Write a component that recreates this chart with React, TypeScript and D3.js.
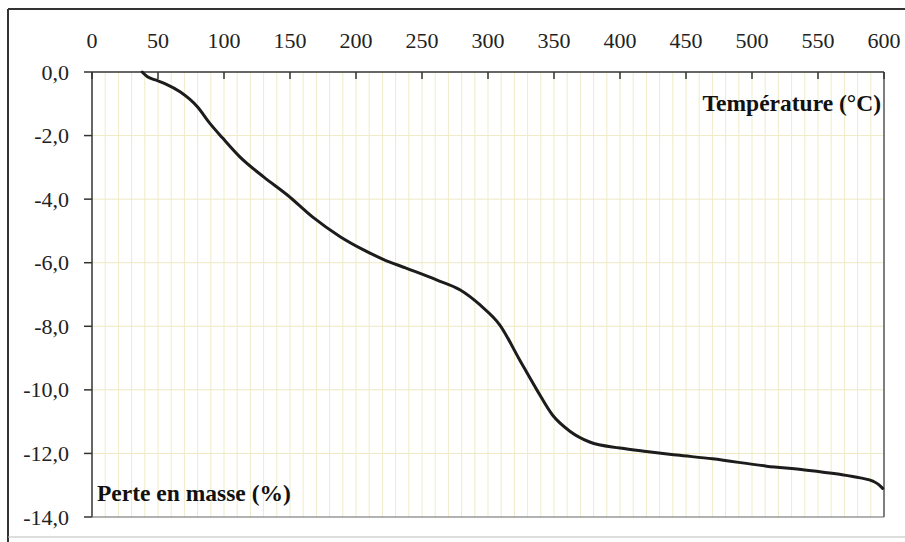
import React from 'react';
import * as d3 from 'd3';

// temperature (°C) and mass loss (%)
const temperature: number[] = [38, 42, 48, 56, 67, 80, 89, 99, 112, 130, 148, 167, 188, 205, 221, 238, 261, 279, 294, 309, 324, 337, 349, 362, 377, 400, 420, 443, 470, 511, 540, 565, 582, 592, 596, 599];
const massLoss: number[] = [0.0, -0.15, -0.25, -0.38, -0.63, -1.1, -1.6, -2.08, -2.67, -3.3, -3.87, -4.56, -5.18, -5.58, -5.9, -6.17, -6.54, -6.86, -7.33, -7.96, -9.06, -10.0, -10.8, -11.3, -11.64, -11.83, -11.94, -12.05, -12.17, -12.4, -12.52, -12.65, -12.77, -12.88, -12.98, -13.1];

const xTicks: number[] = [0, 50, 100, 150, 200, 250, 300, 350, 400, 450, 500, 550, 600];
const yTicks: number[] = [0, -2, -4, -6, -8, -10, -12, -14];
const xTitle = 'Température (°C)';
const yTitle = 'Perte en masse (%)';

const W = 905;
const H = 542;
const left = 92, right = 884, top = 72, bottom = 517;
const font = '"Liberation Serif", "Times New Roman", serif';

export default function App() {
  const x = d3.scaleLinear().domain([0, 600]).range([left, right]);
  const y = d3.scaleLinear().domain([0, -14]).range([top, bottom]);

  const line = d3.line<number>()
    .x((d, i) => x(temperature[i]))
    .y((d) => y(d))
    .curve(d3.curveMonotoneX);

  const minor = d3.range(10, 600, 10);
  const fmt = (v: number) => v.toFixed(1).replace('.', ',');

  return (
    <svg width={W} height={H} style={{ position: 'absolute', left: 0, top: 0, background: '#fff' }}>
      {/* outer frame */}
      <line x1={8} y1={9} x2={W} y2={9} stroke="#333" strokeWidth={2} />
      <line x1={8} y1={9} x2={8} y2={H} stroke="#333" strokeWidth={2} />
      <line x1={8} y1={537} x2={W} y2={537} stroke="#bbb" strokeWidth={1} />

      {/* grid */}
      {minor.map((t) => (
        <line key={'gx' + t} x1={x(t)} x2={x(t)} y1={top} y2={bottom} stroke="#f0ebc9" strokeWidth={1} />
      ))}
      {yTicks.slice(1, -1).map((t) => (
        <line key={'gy' + t} x1={left} x2={right} y1={y(t)} y2={y(t)} stroke="#efe9c4" strokeWidth={1} />
      ))}

      {/* plot frame */}
      <line x1={left} x2={right} y1={top} y2={top} stroke="#333" strokeWidth={1.5} />
      <line x1={left} x2={left} y1={top} y2={bottom} stroke="#333" strokeWidth={1.5} />
      <line x1={left} x2={right} y1={bottom} y2={bottom} stroke="#666" strokeWidth={1.2} />
      <line x1={right} x2={right} y1={top} y2={bottom} stroke="#555" strokeWidth={1.5} />

      {/* x axis on top, ticks inward */}
      {xTicks.map((t) => (
        <g key={'xt' + t}>
          <line x1={x(t)} x2={x(t)} y1={top} y2={top + 7} stroke="#333" strokeWidth={1.5} />
          <text x={x(t)} y={48} textAnchor="middle" fontFamily={font} fontSize={22} fill="#222">{t}</text>
        </g>
      ))}

      {/* y axis, ticks outward */}
      {yTicks.map((t) => (
        <g key={'yt' + t}>
          <line x1={left - 8} x2={left} y1={y(t)} y2={y(t)} stroke="#333" strokeWidth={1.5} />
          <text x={69} y={y(t) + 7.5} textAnchor="end" fontFamily={font} fontSize={22} fill="#222">{fmt(t)}</text>
        </g>
      ))}

      {/* curve */}
      <path d={line(massLoss) || ''} fill="none" stroke="#1c1c1c" strokeWidth={3} strokeLinejoin="round" strokeLinecap="round" />

      {/* axis titles */}
      <text x={881} y={111} textAnchor="end" fontFamily={font} fontSize={23.5} fontWeight="bold" fill="#111">{xTitle}</text>
      <text x={97} y={501} textAnchor="start" fontFamily={font} fontSize={23.5} fontWeight="bold" fill="#111">{yTitle}</text>
    </svg>
  );
}
